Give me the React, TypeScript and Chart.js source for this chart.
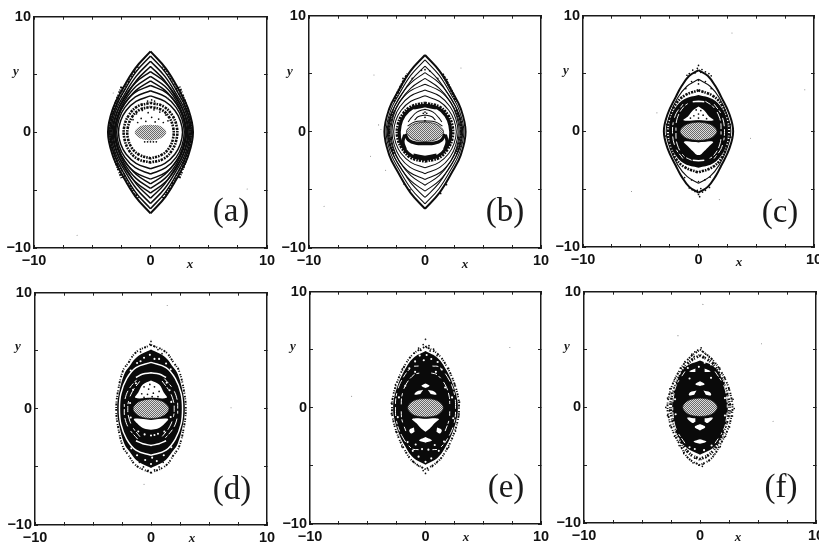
import React, { useEffect, useRef } from "react";
import { Chart, registerables } from "chart.js";

Chart.register(...registerables);

// ---------- values (x, y, x, y, ...) ----------
const axisLabels = [-10, 0, 10];
const panelNames = ["(a)", "(b)", "(c)", "(d)", "(e)", "(f)"];

const ringsA = [
  [0,7, 1.31,5.53, 2.45,3.64, 3.21,2.1, 3.65,0, 3.21,-2.1, 2.45,-3.64, 1.31,-5.53, 0,-7],
  [0,6.6, 1.26,5.21, 2.35,3.43, 3.08,1.98, 3.5,0, 3.08,-1.98, 2.35,-3.43, 1.26,-5.21, 0,-6.6],
  [0,6.15, 1.22,4.86, 2.28,3.2, 2.99,1.85, 3.4,0, 2.99,-1.85, 2.28,-3.2, 1.22,-4.86, 0,-6.15],
  [0,5.7, 1.19,4.5, 2.21,2.96, 2.9,1.71, 3.3,0, 2.9,-1.71, 2.21,-2.96, 1.19,-4.5, 0,-5.7],
  [0,5.25, 1.28,4.3, 2.3,2.94, 2.88,1.68, 3.2,0, 2.88,-1.68, 2.3,-2.94, 1.28,-4.3, 0,-5.25],
  [0,4.85, 1.24,3.98, 2.23,2.72, 2.79,1.55, 3.1,0, 2.79,-1.55, 2.23,-2.72, 1.24,-3.98, 0,-4.85],
  [0,4.45, 1.22,3.65, 2.2,2.49, 2.75,1.42, 3.05,0, 2.75,-1.42, 2.2,-2.49, 1.22,-3.65, 0,-4.45],
  [0,4.05, 1.35,3.44, 2.28,2.43, 2.79,1.3, 3,0, 2.79,-1.3, 2.28,-2.43, 1.35,-3.44, 0,-4.05],
  [0,3.6, 1.3,3.06, 2.2,2.16, 2.7,1.15, 2.9,0, 2.7,-1.15, 2.2,-2.16, 1.3,-3.06, 0,-3.6],
  [0,3.15, 1.24,2.68, 2.09,1.89, 2.56,1, 2.75,0, 2.56,-1, 2.09,-1.89, 1.24,-2.68, 0,-3.15],
];
const sidesA = [2.45,3.95, 2.95,2.6, 3.3,1.2, 3.42,0, 3.3,-1.2, 2.95,-2.6, 2.45,-3.95];
const sidesA2 = [1.05,5.7, 1.8,4.5, 2.5,3.2, 3.05,2.05, 3.45,.9, 3.55,0, 3.45,-.9, 3.05,-2.05, 2.5,-3.2, 1.8,-4.5, 1.05,-5.7];
const speckA1 = [0,2.55, 1.1,2.25, 1.85,1.5, 2.25,.5, 2.25,-.5, 1.85,-1.55, 1.1,-2.3, 0,-2.6];
const speckA2 = [0,2.2, .95,1.95, 1.6,1.3, 1.95,.4, 1.95,-.45, 1.6,-1.35, .95,-1.95, 0,-2.25];
const dotsA = [-1.2,1.6, -.7,1.9, -.2,1.7, .3,1.95, .8,1.75, 1.3,1.5, -1.5,1.1, -.8,1.2, .1,1.3, .7,1.15, 1.5,1, -.4,.95, .4,.9, 1.1,.85, -1.1,.85, -.5,-.82, -.25,-.82, 0,-.82, .25,-.82, .5,-.82, -.25,2.7, .1,2.8, .35,2.7, 3.1,.4, 3.2,-.6, -3.1,.5, -3.3,-.3];
const dustA = [-3.2,3.4, 1.5,3, 8.3,-4.9, -6.3,-8.9];
const grayA = [0,.65, .7,.6, 1.2,.3, 1.35,0, 1.2,-.3, .7,-.6, 0,-.7];

const ringsB = [
  [0,6.62, 1.26,5.23, 2.35,3.44, 3.08,2, 3.5,0, 3.08,-2, 2.35,-3.44, 1.26,-5.23, 0,-6.62],
  [0,6.2, 1.2,4.9, 2.25,3.22, 2.95,1.86, 3.35,0, 2.95,-1.86, 2.25,-3.22, 1.2,-4.9, 0,-6.2],
  [0,5.65, 1.17,4.46, 2.18,2.94, 2.86,1.7, 3.25,0, 2.86,-1.7, 2.18,-2.94, 1.17,-4.46, 0,-5.65],
  [0,5.1, 1.26,4.18, 2.27,2.86, 2.84,1.63, 3.15,0, 2.84,-1.63, 2.27,-2.86, 1.26,-4.18, 0,-5.1],
  [0,4.6, 1.22,3.77, 2.2,2.58, 2.75,1.47, 3.05,0, 2.75,-1.47, 2.2,-2.58, 1.22,-3.77, 0,-4.6],
  [0,4.1, 1.33,3.48, 2.24,2.46, 2.74,1.31, 2.95,0, 2.74,-1.31, 2.24,-2.46, 1.33,-3.48, 0,-4.1],
  [0,3.6, 1.28,3.06, 2.17,2.16, 2.65,1.15, 2.85,0, 2.65,-1.15, 2.17,-2.16, 1.28,-3.06, 0,-3.6],
  [0,3.1, 1.22,2.63, 2.05,1.86, 2.51,.99, 2.7,0, 2.51,-.99, 2.05,-1.86, 1.22,-2.63, 0,-3.1],
];
const sidesB = [2.7,1.9, 3.05,1, 3.12,0, 3.05,-1, 2.7,-1.9];
const sidesB2 = [1.5,5, 2.2,3.7, 2.7,2.6];
const whiteB = [0,2.75, 1.2,2.45, 2.05,1.6, 2.5,.7, 2.55,0, 2.5,-.7, 2.05,-1.6, 1.2,-2.5, 0,-2.8];
const heavyB = [0,2.3, 1.1,2.05, 1.8,1.4, 2.15,.55, 2.2,-.5, 1.8,-1.45, 1.1,-2.1, 0,-2.35];
const speckB = [0,2.5, 1.2,2.2, 1.95,1.5, 2.35,.6, 2.38,-.5, 1.95,-1.5, 1.2,-2.25, 0,-2.55];
const blobB1 = [0,2.25, .95,2.05];
const blobB2 = [0,-2.2, 1,-2];
const domeB1 = [0,1.95, .7,1.7, 1.2,1.2, 1.45,.85];
const domeB2 = [0,1.45, .6,1.3, .9,1];
const smileB = [0,-1.02, .8,-.97, 1.4,-.72, 1.72,-.2];
const legB = [1.75,-.25, 1.9,-.85, 1.7,-1.5];
const capB = [0,.95, .9,.85, 1.5,.5];
const dotsB = [0,5.35, -.3,5.3, .4,5.25, -1.1,4.6, 1.1,4.6, 0,1.7, 0,1.25, 0,.95, -.15,1.6, .15,1.6, 1.35,-5.3, 1.85,-4.55, -1.8,-4.5, -1.3,-5, 1.9,4.5, -1.9,4.6, 3.25,.4, -3.25,.4, -2.9,-.5, 2.9,-.5];
const dustB = [-4.4,4.9, -4,.6, -3.8,.2, -4.7,-2.1, -3.4,-3.3, -8.7,-6.4, 3.1,5.5];
const grayB = [0,.85, .8,.72, 1.3,.45, 1.6,0, 1.3,-.45, .8,-.72, 0,-.85];

const outerC = [0,5.3, .8,4.8, 1.5,3.85, 1.95,3, 2.67,1.5, 3,0, 2.67,-1.5, 1.95,-3, 1.5,-3.85, .8,-4.8, 0,-5.3];
const ringC = [0,4.5, 1,3.9, 1.8,2.9, 2.45,1.5, 2.8,0, 2.45,-1.5, 1.8,-2.9, 1,-3.9, 0,-4.5];
const speckC = [0,3.55, 1.2,3.1, 2,2.3, 2.5,1.1, 2.65,0, 2.5,-1.1, 2,-2.3, 1.2,-3.1, 0,-3.55];
const coreC = [0,3.15, 1.2,2.8, 2,2.05, 2.45,1, 2.55,0, 2.45,-1, 2,-2.05, 1.2,-2.8, 0,-3.15];
const slitC1 = [1.35,2.35, 2,1.4, 2.25,0, 2,-1.4, 1.35,-2.35];
const slitC2 = [.6,2.6, 1.3,2.1, 1.85,1.1, 1.95,0, 1.85,-1.1, 1.3,-2.1, .6,-2.5];
const slitC3 = [0,2.6, .5,2.55];
const slitC4 = [0,-2.55, .5,-2.5];
const domeC = [0,2.15, .5,1.8, .9,1.3, 1.3,.95, 0,.95];
const lowC = [0,-.95, 1.25,-.9, .9,-1.3, .5,-1.7, .2,-2, 0,-2.05];
const dotsC = [0,5.7, -.1,5.45, .3,5.35, -.5,5.3, .6,5.15, -.8,5, .9,5, -1,4.85, 1.1,4.8, -.3,5.05, .2,5.1, -.55,-5.05, -.3,-5.2, 0,-5.45, .1,-5.65, .35,-5.25, .6,-5.1, -.8,-4.9, .95,-4.85, -.1,-5.1, .2,-4.95, 0,4.4, 0,4.1, -.6,4.3, .6,4.3, -1.1,3.7, 1.1,3.7, -1.2,-4, -.6,-4.2, 0,-4.35, .55,-4.2, 1,-3.95, -.4,1.35, 0,1.5, .4,1.4, -.7,1.15, 0,1.15, .7,1.1, -.2,1.85, .2,1.8, 2.75,.6, -2.75,.6, 2.8,-.5, -2.85,-.4];
const dustC = [-3.6,1.6, 4.5,-.6, 2.9,8.5, 9.2,3.6, -5.8,-5.2, 1.8,-5.9];
const grayC = [0,.8, .8,.68, 1.35,.4, 1.6,0, 1.35,-.4, .8,-.68, 0,-.8];

const outerD = [0,5.5, 1.26,4.9, 2,3.9, 2.41,3.3, 2.85,1.5, 3,0, 2.85,-1.5, 2.41,-3.3, 2,-3.9, 1.26,-4.9, 0,-5.5];
const blackD = [0,5.1, 1.15,4.5, 1.9,3.6, 2.3,3, 2.75,1.4, 2.92,0, 2.75,-1.4, 2.3,-3, 1.9,-3.6, 1.15,-4.5, 0,-5.1];
const whiteD = [0,4, 1.3,3.55, 2.1,2.6, 2.6,1.3, 2.72,0, 2.6,-1.3, 2.1,-2.6, 1.3,-3.55, 0,-4];
const slitD1 = [1.15,2.6, 1.9,1.7, 2.25,.8, 2.3,0, 2.25,-.8, 1.9,-1.7, 1.15,-2.6];
const slitD2 = [.95,2.4, 1.6,1.5, 1.95,.6, 2,0, 1.95,-.6, 1.6,-1.55, .95,-2.4];
const slitD3 = [0,3.1, .7,3, 1.3,2.7];
const slitD4 = [0,-3.15, .7,-3, 1.3,-2.75];
const domeD = [0,2.45, .7,2.1, 1.1,1.4, 1.35,.95, 0,.95];
const lowD = [0,-.95, 1.45,-.85, 1.2,-1.25, .6,-1.7, 0,-1.8];
const dotsD = [0,5.8, -.1,5.55, .25,5.4, -.5,5.3, .6,5.1, -.9,4.9, .95,4.75, .3,4.85, -.3,4.75, 0,-5.5, -.25,-5.3, .3,-5.25, -.65,-5, .7,-5, -1,-4.6, 1.05,-4.6, -.4,-4.7, .3,-4.7, -.6,1.9, -.2,1.7, .3,1.9, .7,1.5, -.8,1.3, -.3,1.25, .2,1.35, .6,1.05, -.6,1, -.1,2.1, .1,1.05];
const pinsD = [-.6,4.4, .7,4.3, -.1,4.65, .3,4.3, -1.2,3.95, 1.3,3.9, -.9,4.1, 1.7,3.4, -1.75,3.3, -.5,-4.4, .5,-4.5, 0,-4.75, 1.1,-4, -1.2,-4, 1.75,-3.3, -1.7,-3.4, .1,-4.2, -1.3,2.2, 1.35,2.25, -1.55,1.65, 1.6,1.6, 1.75,.6, -1.8,.5, 1.7,-.7, -1.75,-.75, -1.1,-1.95, 1.15,-1.95, .6,-2.15, -.55,-2.2, 0,-2.3, .3,-2.25];
const dustD = [1.4,8.9, 6.9,.1, -.6,-6.5, 0,5.9];
const grayD = [0,.85, .8,.72, 1.3,.43, 1.55,0, 1.3,-.43, .8,-.72, 0,-.85];

const outerE = [0,5.3, 1.1,4.6, 1.9,3.45, 2.5,2.1, 2.85,.8, 2.9,0, 2.85,-.8, 2.5,-2.1, 1.9,-3.45, 1.1,-4.6, 0,-5.3];
const blackE = [0,4.9, 1.05,4.3, 1.8,3.25, 2.4,1.95, 2.75,.7, 2.8,0, 2.75,-.7, 2.4,-1.95, 1.8,-3.25, 1.05,-4.3, 0,-4.9];
const whiteE1 = [.6,3.6, 1.2,3.5, 2.05,2.4, 2.5,1.2, 2.6,0, 2.5,-1.2, 2.05,-2.4, 1.2,-3.5, .6,-3.6];
const whiteE2 = [.5,3, 1,2.85, 1.7,2, 2.05,1, 2.1,.3];
const whiteE3 = [1.7,-2, 2.05,-1, 2.1,-.3];
const lensE1 = [0,2.1, .35,1.9, 0,1.7];
const lensE2 = [.2,1.55, .75,1.4, .95,1.15, .45,1.2];
const lowE = [0,-.9, 1.15,-.95, .8,-1.3, .35,-1.8, 0,-2.05];
const lensE3 = [0,-2.5, .55,-2.8, 0,-3];
const blobE = [1,-1.7, 1.4,-1.9, 1.25,-2.2, .95,-2.05];
const dotsE = [0,5.9, -.2,5.45, .3,5.35, .1,5.2, -.6,5.15, .7,5.05, -.4,4.95, .4,4.9, -1,4.7, 1,4.5, 0,-5.65, -.2,-5.4, .25,-5.35, -.6,-5, .6,-5.05, -1,-4.7, 1.05,-4.6, 2.95,.5, -2.95,.4, 2.9,-.6, -2.95,-.5, 2.55,1.95, -2.6,2, 2.6,-2, -2.55,-2.05, 2,3.4, -2,3.35, 2,-3.4, -2.05,-3.35];
const pinsE = [-.5,4.5, .1,4.55, .5,4.2, -.15,4.1, -.9,4, 1.05,3.95, 1.4,3.3, -1.4,3.4, -.6,-4.2, .5,-4.35, 0,-4.65, -1.1,-3.7, 1.15,-3.7, -1.55,-2.95, 1.6,-2.9, -.9,3.1, .9,3.1, -1.75,1.9, 1.7,1.75, -2.3,.9, 2.3,.9, -2.4,-.8, 2.4,-.9, .8,-3.2, -.85,-3.15, .25,-3.6, -.3,-3.55];
const dustE = [-6.4,1, 7.3,5.2, 0,5.95];
const grayE = [0,.8, .8,.7, 1.3,.42, 1.55,0, 1.3,-.42, .8,-.7, 0,-.8];

const outerF = [0,5, 1,4.2, 1.75,3.2, 2.4,1.9, 2.75,.6, 2.8,0, 2.75,-.6, 2.4,-1.9, 1.75,-3.2, 1,-4.4, 0,-5];
const outerF2 = [0,4.5, .95,3.9, 1.65,2.9, 2.2,1.6, 2.5,.5, 2.55,0, 2.5,-.5, 2.2,-1.6, 1.65,-2.9, .95,-3.95, 0,-4.5];
const coreF = [0,4.05, 1.15,3.55, 1.85,2.55, 2.25,1.3, 2.4,0, 2.25,-1.3, 1.85,-2.55, 1.15,-3.5, 0,-4.1];
const whiteF = [1.3,3.1, 2.05,1.9, 2.3,.8, 2.35,0, 2.3,-.8, 2.05,-1.9, 1.3,-3.1];
const lensF1 = [0,2.25, .4,2, 0,1.85];
const lensF2 = [.3,1.45, .85,1.3, .95,1.05, .5,1.1];
const lensF3 = [0,-1.45, .45,-1.7, 0,-2];
const lensF4 = [.4,-.95, 1.1,-.9, .65,-1.35, .4,-1.25];
const lensF5 = [0,-2.75, .55,-2.95, 0,-3.15];
const lensF6 = [.4,3.05, .9,3.1, .4,3.35];
const dotsF = [.1,5.15, -.2,4.95, .2,4.85, -.45,4.8, .5,4.6, -.7,4.6, .8,4.35, -.9,4.3, -1.3,3.95, 1.2,3.85, -1.7,3.4, 1.7,3.4, -2.2,2.4, 2.15,2.5, -2.6,1.6, 2.5,1.55, -2.8,.8, 2.85,.7, -2.95,0, 2.95,-.1, -2.8,-.7, 2.8,-.75, -2.6,-1.6, 2.55,-1.7, -2.2,-2.5, 2.2,-2.5, -1.8,-3.3, 1.75,-3.4, -1.4,-4, 1.2,-4.1, -.9,-4.5, .8,-4.6, -.6,-4.8, .3,-4.9, -.1,-5, .2,-5.1, -2.5,.3, 2.6,.3, -2.65,-.3, 2.7,-.4, -2.45,1.2, 2.35,1.1, -2.4,-1.2, 2.35,-1.3, -2,2.1, 1.95,2.05, -1.95,-2.2, 1.95,-2.15, -1.5,3.2, 1.45,3.15, -1.55,-3.1, 1.5,-3.2, -.5,4.4, .45,4.3, -.45,-4.4, .5,-4.35];
const pinsF = [-.5,4, .4,3.85, -.1,3.5, .95,3.7, -1.05,3.4, -.45,-3.6, .35,-3.7, -.9,-3.45, 1,-3.3, -2.15,.7, 2.15,.8, -2.1,-.6, 2.15,-.7, -.9,2.5, .95,2.55];
const dustF = [.25,8.9, 5.3,5.5, -1.9,6.2, 6.3,-1.2];
const grayF = [0,.8, .8,.68, 1.25,.42, 1.5,0, 1.25,-.42, .8,-.68, 0,-.8];

// ---------- building the curves from the values above ----------
type Pt = { x: number; y: number };
const pairs = (f: number[]): Pt[] => {
  const out: Pt[] = [];
  for (let i = 0; i < f.length; i += 2) out.push({ x: f[i], y: f[i + 1] });
  return out;
};
const flipped = (p: Pt[]): Pt[] => p.map((q) => ({ x: -q.x, y: q.y })).reverse();
const loop = (half: number[]): Pt[] => [...pairs(half), ...flipped(pairs(half))];
const arch = (half: number[]): Pt[] => [...flipped(pairs(half)), ...pairs(half)];
const twin = (half: number[]): Pt[] => [...pairs(half), { x: NaN, y: NaN }, ...flipped(pairs(half))];

const ROUGH = [1, 1.5, 2, 1, 1, 2.3, 1.5, 1];
const KINDS: Record<string, any> = {
  outline: { w: 2 },
  line: { w: 1.5 },
  thin: { w: 1.05 },
  heavy: { w: 3.2 },
  speck: { w: 2.6, dash: [1.6, 1.1, 2.4, 1] },
  spray: { w: 1.9, dash: ROUGH },
  wide: { w: 3, dash: ROUGH },
  gapLine: { w: 1.5, color: "#ffffff" },
  gapDash: { w: 1, color: "#ffffff", dash: [6, 2, 3, 5, 9, 3] },
  solid: { w: 0, fill: "#0a0a0a" },
  hole: { w: 0, fill: "#ffffff" },
  stipple: { w: 0.7, fill: "stipple" },
  stippleBare: { w: 0, fill: "stipple" },
  dots: { radius: 0.85 },
  pins: { radius: 1.05, color: "#ffffff" },
  dust: { radius: 0.55, color: "#888888" },
};
type Layer = [string, Pt[]];

const layersA: Layer[] = [
  ["outline", twin(ringsA[0])],
  ...ringsA.slice(1).map((r): Layer => ["line", twin(r)]),
  ["wide", twin(sidesA)],
  ["spray", twin(sidesA2)],
  ["speck", loop(speckA1)],
  ["speck", loop(speckA2)],
  ["dots", pairs(dotsA)],
  ["dust", pairs(dustA)],
  ["stippleBare", loop(grayA)],
];
const layersB: Layer[] = [
  ["outline", twin(ringsB[0])],
  ...ringsB.slice(1).map((r): Layer => ["thin", twin(r)]),
  ["speck", twin(sidesB)],
  ["speck", twin(sidesB2)],
  ["hole", loop(whiteB)],
  ["speck", loop(speckB)],
  ["heavy", loop(heavyB)],
  ["heavy", arch(blobB1)],
  ["heavy", arch(blobB2)],
  ["thin", arch(domeB1)],
  ["thin", arch(domeB2)],
  ["heavy", arch(smileB)],
  ["heavy", twin(legB)],
  ["thin", arch(capB)],
  ["dots", pairs(dotsB)],
  ["dust", pairs(dustB)],
  ["stipple", loop(grayB)],
];
const layersC: Layer[] = [
  ["outline", twin(outerC)],
  ["thin", twin(ringC)],
  ["speck", loop(speckC)],
  ["solid", loop(coreC)],
  ["gapDash", twin(slitC1)],
  ["gapDash", twin(slitC2)],
  ["gapLine", arch(slitC3)],
  ["gapLine", arch(slitC4)],
  ["hole", loop(domeC)],
  ["hole", loop(lowC)],
  ["dots", pairs(dotsC)],
  ["dust", pairs(dustC)],
  ["heavy", loop(grayC)],
  ["stipple", loop(grayC)],
];
const layersD: Layer[] = [
  ["spray", twin(outerD)],
  ["solid", loop(blackD)],
  ["gapLine", twin(whiteD)],
  ["gapDash", twin(slitD1)],
  ["gapDash", twin(slitD2)],
  ["gapLine", arch(slitD3)],
  ["gapLine", arch(slitD4)],
  ["hole", loop(domeD)],
  ["hole", loop(lowD)],
  ["pins", pairs(pinsD)],
  ["dots", pairs(dotsD)],
  ["dust", pairs(dustD)],
  ["stipple", loop(grayD)],
];
const layersE: Layer[] = [
  ["spray", twin(outerE)],
  ["solid", loop(blackE)],
  ["gapDash", twin(whiteE1)],
  ["gapDash", twin(whiteE2)],
  ["gapDash", twin(whiteE3)],
  ["hole", loop(lensE1)],
  ["hole", twin(lensE2)],
  ["hole", loop(lowE)],
  ["hole", loop(lensE3)],
  ["hole", twin(blobE)],
  ["pins", pairs(pinsE)],
  ["dots", pairs(dotsE)],
  ["dust", pairs(dustE)],
  ["heavy", loop(grayE)],
  ["stipple", loop(grayE)],
];
const layersF: Layer[] = [
  ["spray", twin(outerF)],
  ["wide", twin(outerF2)],
  ["solid", loop(coreF)],
  ["gapDash", twin(whiteF)],
  ["hole", loop(lensF1)],
  ["hole", twin(lensF2)],
  ["hole", loop(lensF3)],
  ["hole", twin(lensF4)],
  ["hole", loop(lensF5)],
  ["hole", twin(lensF6)],
  ["pins", pairs(pinsF)],
  ["dots", pairs(dotsF)],
  ["dust", pairs(dustF)],
  ["heavy", loop(grayF)],
  ["stipple", loop(grayF)],
];

const LAYERS = [layersA, layersB, layersC, layersD, layersE, layersF];

// plot box (left, top, right, bottom), then where the letters sit on the page
const BOXES = [
  { box: [34, 16, 267, 248], name: [231, 212], xl: [190, 265], yl: [16, 72] },
  { box: [309, 15, 541, 248], name: [505, 212], xl: [465, 265], yl: [290, 72] },
  { box: [583, 15, 814, 247], name: [780, 213], xl: [739, 263], yl: [566, 71] },
  { box: [35, 292, 267, 525], name: [232, 490], xl: [192, 539], yl: [18, 347] },
  { box: [310, 291, 541, 524], name: [506, 488], xl: [466, 538], yl: [293, 347] },
  { box: [584, 291, 816, 523], name: [781, 488], xl: [738, 538], yl: [567, 347] },
];
const ML = 38, MT = 14, MR = 16, MB = 32;

function stipplePattern(): CanvasPattern | string {
  const c = document.createElement("canvas");
  c.width = 2; c.height = 2;
  const g = c.getContext("2d");
  if (!g) return "#999999";
  g.fillStyle = "#dddddd"; g.fillRect(0, 0, 2, 2);
  g.fillStyle = "#6a6a6a"; g.fillRect(0, 0, 1, 1); g.fillRect(1, 1, 1, 1);
  return g.createPattern(c, "repeat") || "#999999";
}

const labelFont = { family: "'Liberation Sans', Arial, sans-serif", size: 14.5, weight: "bold" as const };

function Panel({ index }: { index: number }) {
  const ref = useRef<HTMLCanvasElement>(null);
  const { box, name, xl, yl } = BOXES[index];
  const left = box[0] - ML, top = box[1] - MT;
  const width = box[2] - box[0] + ML + MR, height = box[3] - box[1] + MT + MB;

  useEffect(() => {
    if (!ref.current) return;
    const pat = stipplePattern();
    const layers = LAYERS[index];
    const datasets = layers.map(([kind, data], i) => {
      const k = KINDS[kind];
      const isDots = k.radius !== undefined;
      return {
        data,
        order: layers.length - i,
        xAxisID: "x",
        yAxisID: "y",
        showLine: !isDots,
        tension: 0.4,
        spanGaps: false,
        borderColor: k.color || "#0d0d0d",
        borderWidth: k.w || 0,
        borderDash: k.dash || [],
        pointRadius: k.radius || 0,
        pointBorderWidth: 0,
        pointBackgroundColor: k.color || "#0d0d0d",
        fill: k.fill ? "shape" : false,
        backgroundColor: k.fill === "stipple" ? pat : k.fill || "transparent",
      };
    });
    const tickGrid = { drawOnChartArea: false, drawTicks: true, tickLength: -3, color: "#222222", lineWidth: 1 };
    const border = { display: true, color: "#1a1a1a", width: 1.5 };
    const fixH = (h: number) => (s: any) => { s.height = h; };
    const fixW = (w: number) => (s: any) => { s.width = w; };
    const showLabel = (v: any) => (axisLabels.includes(Number(v)) ? String(v).replace("-", "\u2212") : "");
    const texts = {
      id: "panelTexts",
      afterDraw(ch: any) {
        const g = ch.ctx;
        g.save();
        g.fillStyle = "#1a1a1a";
        g.textAlign = "center";
        g.textBaseline = "middle";
        g.font = "33px 'Liberation Serif', serif";
        g.fillText(panelNames[index], name[0] - left, name[1] - top);
        g.font = "italic bold 13px 'Liberation Serif', serif";
        g.fillText("x", xl[0] - left, xl[1] - top);
        g.fillText("y", yl[0] - left, yl[1] - top);
        g.restore();
      },
    };
    const chart = new Chart(ref.current, {
      type: "scatter",
      data: { datasets },
      plugins: [texts],
      options: {
        responsive: false,
        animation: false,
        devicePixelRatio: 1,
        events: [],
        layout: { padding: 0 },
        plugins: { legend: { display: false }, tooltip: { enabled: false }, title: { display: false } },
        scales: {
          x: {
            type: "linear", position: "bottom", min: -10, max: 10, afterFit: fixH(MB),
            grid: tickGrid, border,
            ticks: { stepSize: 2.5, autoSkip: false, maxRotation: 0, padding: 7, color: "#111111", font: labelFont, callback: showLabel },
          },
          y: {
            type: "linear", position: "left", min: -10, max: 10, afterFit: fixW(ML),
            grid: tickGrid, border,
            ticks: { stepSize: 5, autoSkip: false, padding: 6, color: "#111111", font: labelFont, callback: showLabel },
          },
          x2: {
            type: "linear", axis: "x", position: "top", min: -10, max: 10, afterFit: fixH(MT),
            grid: tickGrid, border, ticks: { display: false, stepSize: 2.5 },
          },
          y2: {
            type: "linear", axis: "y", position: "right", min: -10, max: 10, afterFit: fixW(MR),
            grid: tickGrid, border, ticks: { display: false, stepSize: 5 },
          },
        },
      } as any,
    } as any);
    return () => chart.destroy();
  }, [index]);

  return (
    <canvas
      ref={ref}
      width={width}
      height={height}
      style={{ position: "absolute", left, top, width, height }}
    />
  );
}

export default function App() {
  return (
    <div style={{ position: "absolute", left: 0, top: 0, width: 819, height: 542, overflow: "hidden", background: "#fff" }}>
      {BOXES.map((_, i) => <Panel key={i} index={i} />)}
    </div>
  );
}
